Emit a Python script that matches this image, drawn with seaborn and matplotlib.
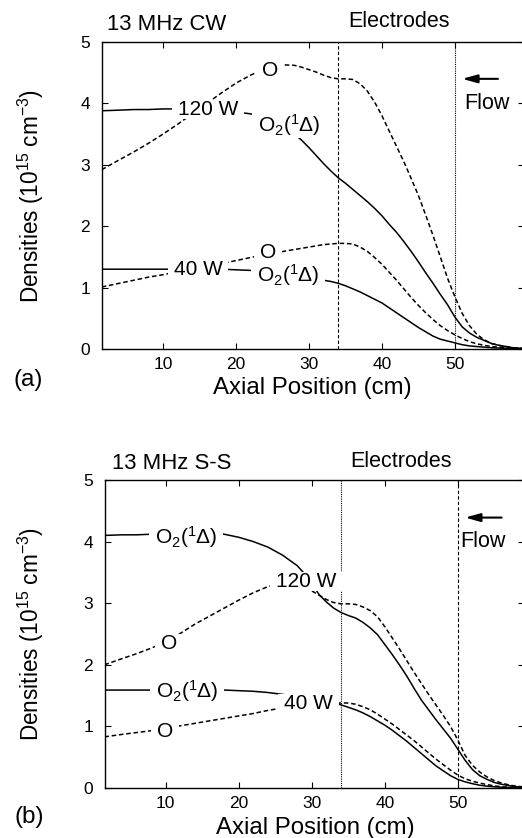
import matplotlib
matplotlib.use("Agg")
import matplotlib.pyplot as plt
from matplotlib.patches import Rectangle
import pandas as pd
import seaborn as sns

# Axial positions (cm) shared by every curve
positions = [1.6, 4, 6, 8, 10, 12, 14,
             16, 18, 20, 22, 24, 26, 28,
             29, 30, 31, 32, 33, 34, 35, 36, 37, 38,
             39, 40, 41, 42, 43, 44, 45, 46, 47, 48,
             49, 50, 51, 52, 53, 54, 55, 56, 57, 58, 59.4]

# (a) 13 MHz CW densities (1e15 cm^-3)
cw_o_120 = [2.92, 3.08, 3.21, 3.35, 3.50, 3.66, 3.83,
            4.00, 4.17, 4.33, 4.46, 4.57, 4.63, 4.62,
            4.59, 4.55, 4.51, 4.46, 4.42, 4.40, 4.40, 4.39, 4.32, 4.20,
            4.02, 3.80, 3.55, 3.30, 3.05, 2.78, 2.50, 2.18, 1.85, 1.50,
            1.15, 0.85, 0.58, 0.38, 0.24, 0.15, 0.09, 0.06, 0.04, 0.02, 0.01]
cw_o2_120 = [3.88, 3.89, 3.90, 3.90, 3.91, 3.91, 3.91,
             3.90, 3.88, 3.86, 3.83, 3.77, 3.64, 3.50,
             3.40, 3.28, 3.15, 3.02, 2.90, 2.79, 2.70, 2.60, 2.50, 2.40,
             2.29, 2.17, 2.03, 1.90, 1.75, 1.59, 1.42, 1.24, 1.07, 0.89,
             0.72, 0.52, 0.36, 0.26, 0.19, 0.14, 0.09, 0.06, 0.04, 0.02, 0.01]
cw_o_40 = [1.01, 1.07, 1.12, 1.17, 1.21, 1.26, 1.30,
           1.34, 1.39, 1.44, 1.49, 1.54, 1.58, 1.62,
           1.64, 1.66, 1.68, 1.70, 1.71, 1.72, 1.72, 1.71, 1.66, 1.59,
           1.49, 1.38, 1.25, 1.12, 0.98, 0.84, 0.71, 0.59, 0.48, 0.38,
           0.30, 0.23, 0.17, 0.12, 0.085, 0.06, 0.04, 0.03, 0.02, 0.01, 0.005]
cw_o2_40 = [1.30, 1.30, 1.30, 1.30, 1.30, 1.30, 1.30,
            1.30, 1.30, 1.29, 1.28, 1.26, 1.23, 1.20,
            1.18, 1.16, 1.14, 1.12, 1.10, 1.07, 1.03, 0.98, 0.93, 0.87,
            0.81, 0.75, 0.67, 0.59, 0.51, 0.43, 0.35, 0.28, 0.21, 0.16,
            0.13, 0.10, 0.07, 0.05, 0.04, 0.03, 0.02, 0.015, 0.01, 0.005, 0.0]

# (b) 13 MHz S-S densities (1e15 cm^-3)
ss_o_120 = [2.00, 2.10, 2.18, 2.27, 2.37, 2.51, 2.66,
            2.79, 2.92, 3.05, 3.17, 3.27, 3.32, 3.29,
            3.25, 3.20, 3.13, 3.06, 3.01, 2.99, 2.99, 2.98, 2.94, 2.88,
            2.78, 2.62, 2.44, 2.26, 2.07, 1.88, 1.70, 1.52, 1.35, 1.18,
            1.00, 0.78, 0.53, 0.37, 0.26, 0.18, 0.12, 0.08, 0.05, 0.03, 0.015]
ss_o2_120 = [4.10, 4.11, 4.11, 4.12, 4.12, 4.13, 4.14,
             4.14, 4.12, 4.07, 4.00, 3.91, 3.78, 3.61,
             3.48, 3.32, 3.14, 3.02, 2.92, 2.85, 2.80, 2.76, 2.69, 2.60,
             2.49, 2.33, 2.17, 2.00, 1.82, 1.62, 1.43, 1.27, 1.11, 0.96,
             0.81, 0.63, 0.45, 0.30, 0.20, 0.14, 0.09, 0.06, 0.04, 0.02, 0.01]
ss_o_40 = [0.83, 0.87, 0.90, 0.93, 0.97, 1.01, 1.05,
           1.09, 1.13, 1.17, 1.21, 1.26, 1.30, 1.33,
           1.34, 1.35, 1.36, 1.37, 1.375, 1.38, 1.38, 1.36, 1.32, 1.27,
           1.20, 1.12, 1.04, 0.95, 0.86, 0.77, 0.67, 0.57, 0.47, 0.38,
           0.29, 0.21, 0.15, 0.11, 0.08, 0.055, 0.035, 0.02, 0.012, 0.006, 0.0]
ss_o2_40 = [1.59, 1.59, 1.59, 1.59, 1.59, 1.59, 1.59,
            1.59, 1.59, 1.58, 1.57, 1.55, 1.52, 1.48,
            1.46, 1.44, 1.42, 1.40, 1.38, 1.35, 1.31, 1.27, 1.22, 1.16,
            1.09, 1.02, 0.94, 0.85, 0.76, 0.66, 0.56, 0.46, 0.36, 0.28,
            0.20, 0.14, 0.10, 0.07, 0.045, 0.03, 0.02, 0.012, 0.008, 0.004, 0.0]

x_ticks = [10, 20, 30, 40, 50]
y_ticks = [0, 1, 2, 3, 4, 5]
electrode_edges = [34, 50]

O2D = "O$_2$($^1$Δ)"
# curve labels: text, x, baseline y
cw_labels = [("O", 24.7, 4.45), ("120 W", 16.2, 3.81), (O2D, 27.3, 3.54),
             ("O", 24.4, 1.48), ("40 W", 14.8, 1.205), (O2D, 27.1, 1.10)]
ss_labels = [(O2D, 12.8, 3.97), ("O", 10.4, 2.25), ("120 W", 29.3, 3.27),
             (O2D, 12.9, 1.47), ("O", 9.9, 0.82), ("40 W", 29.5, 1.29)]

sns.set_theme(style="ticks")
plt.rcParams.update({
    "font.family": ["Liberation Sans", "DejaVu Sans"],
    "mathtext.fontset": "custom",
    "mathtext.rm": "Liberation Sans",
    "mathtext.it": "Liberation Sans:italic",
    "mathtext.bf": "Liberation Sans:bold",
    "axes.edgecolor": "black",
    "axes.linewidth": 1.0,
    "text.color": "black",
    "axes.labelcolor": "black",
    "xtick.color": "black",
    "ytick.color": "black",
})

W, H = 522, 838
fig = plt.figure(figsize=(W / 100, H / 100), dpi=100)


def fxy(px, py):
    return px / W, 1 - py / H


def panel_frame(o120, o2_120, o40, o2_40):
    parts = []
    for species, power, dens in [("O", "120 W", o120), ("O2", "120 W", o2_120),
                                 ("O", "40 W", o40), ("O2", "40 W", o2_40)]:
        parts.append(pd.DataFrame({"position": positions, "density": dens,
                                   "species": species, "power": power}))
    return pd.concat(parts, ignore_index=True)


def draw_panel(rect, xlim, df, labels, vstyles):
    ax = fig.add_axes(rect)
    for xe, ls in zip(electrode_edges, vstyles):
        ax.axvline(xe, color="black", lw=0.8, ls=ls, zorder=1)
    sns.lineplot(data=df, x="position", y="density", style="species",
                 units="power", estimator=None,
                 dashes={"O": (3, 1.8), "O2": ""}, color="black",
                 linewidth=1.1, legend=False, ax=ax, zorder=2)
    ax.set_xlim(*xlim)
    ax.set_ylim(0, 5)
    ax.set_xticks(x_ticks)
    ax.set_yticks(y_ticks)
    ax.set_xlabel("")
    ax.set_ylabel("")
    ax.tick_params(direction="in", top=True, right=True, length=4.3, width=0.8,
                   labelsize=12.5)
    ax.tick_params(axis="y", pad=8.5)
    ax.tick_params(axis="x", pad=6)
    for s in ax.spines.values():
        s.set_visible(True)
        s.set_linewidth(1.0)
    texts = []
    for s, x, y in labels:
        t = ax.text(x, y, s, ha="center", va="baseline", fontsize=15, zorder=5)
        texts.append(t)
    return ax, texts


ax_a, txt_a = draw_panel([102 / W, 1 - 349 / H, (523.5 - 102) / W, 307 / H],
                         (1.64, 59.4), panel_frame(cw_o_120, cw_o2_120, cw_o_40, cw_o2_40),
                         cw_labels, [(0, (3, 2)), (0, (1, 1))])
ax_b, txt_b = draw_panel([105 / W, 1 - 788 / H, (523.5 - 105) / W, 308 / H],
                         (1.68, 59.0), panel_frame(ss_o_120, ss_o2_120, ss_o_40, ss_o2_40),
                         ss_labels, [(0, (1, 1)), (0, (3, 2))])

# flow arrows
for ax, (x0, x1, y) in [(ax_a, (55.9, 51.0, 4.40)), (ax_b, (56.0, 51.0, 4.39))]:
    ax.annotate("", xy=(x1, y), xytext=(x0, y),
                arrowprops=dict(arrowstyle="-|>,head_length=0.9,head_width=0.25",
                                color="black", lw=1.5, shrinkA=0, shrinkB=0,
                                mutation_scale=10), zorder=5)

# panel annotations
fig.text(*fxy(106.7, 25), "13 MHz CW", ha="left", va="center", fontsize=15.9)
fig.text(*fxy(111.7, 463.3), "13 MHz S-S", ha="left", va="center", fontsize=15.9)
fig.text(*fxy(399, 21.7), "Electrodes", ha="center", va="center", fontsize=15.5)
fig.text(*fxy(400.8, 461.7), "Electrodes", ha="center", va="center", fontsize=15.5)
fig.text(*fxy(486.7, 103.3), "Flow", ha="center", va="center", fontsize=15.5)
fig.text(*fxy(483, 541.7), "Flow", ha="center", va="center", fontsize=15.5)
fig.text(*fxy(28, 380), "(a)", ha="center", va="center", fontsize=17.5)
fig.text(*fxy(29, 816.7), "(b)", ha="center", va="center", fontsize=17.5)
for px, py in [(312, 388.3), (315, 828)]:
    fig.text(*fxy(px, py), "Axial Position (cm)", ha="center", va="center", fontsize=17.3)
for px, py in [(31, 195.5), (31, 634)]:
    fig.text(*fxy(px, py), "Densities (10$^{15}$ cm$^{-3}$)", ha="center",
             va="center", rotation=90, fontsize=16.3)

# white backing behind curve labels so the curves break around them
fig.canvas.draw()
renderer = fig.canvas.get_renderer()
hpad = 6
for ax, texts in [(ax_a, txt_a), (ax_b, txt_b)]:
    inv = ax.transData.inverted()
    for t in texts:
        bb = t.get_window_extent(renderer)
        (x0, y0), (x1, y1) = inv.transform([(bb.x0 - hpad, bb.y0), (bb.x1 + hpad, bb.y1)])
        ax.add_patch(Rectangle((x0, y0), x1 - x0, y1 - y0, facecolor="white",
                               edgecolor="none", zorder=4))

fig.savefig("out.png", dpi=100, facecolor="white")
